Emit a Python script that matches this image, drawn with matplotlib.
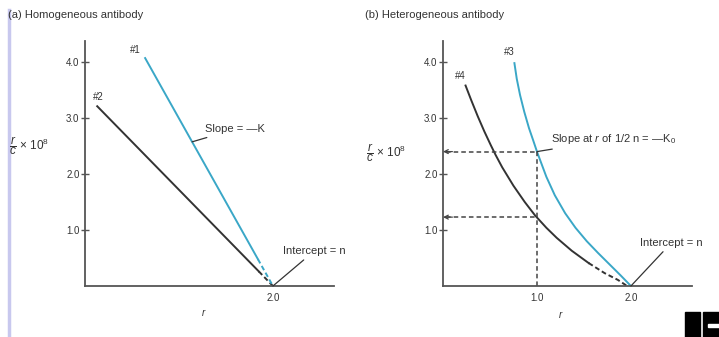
import numpy as np
import matplotlib
matplotlib.use('Agg')
import matplotlib.pyplot as plt
from matplotlib.lines import Line2D
from matplotlib.patches import Rectangle

plt.rcParams['font.family'] = ['Liberation Sans', 'DejaVu Sans']
plt.rcParams['mathtext.fontset'] = 'custom'
plt.rcParams['mathtext.rm'] = 'Liberation Sans'
plt.rcParams['mathtext.it'] = 'Liberation Sans:italic'

# (a) homogeneous antibody - straight Scatchard lines (r vs r/c x 10^8)
r1 = [0.64, 1.84, 2.0]
v1 = [4.07, 0.48, 0.0]
r2 = [0.13, 1.85, 2.0]
v2 = [3.21, 0.26, 0.0]

r3 = [0.76, 0.785, 0.82, 0.865, 0.915, 0.96, 1.0, 1.04, 1.10, 1.19, 1.30, 1.41,
      1.53, 1.65, 1.77, 1.89, 2.0]
v3 = [3.98, 3.70, 3.41, 3.11, 2.82, 2.60, 2.40, 2.22, 1.95, 1.62, 1.30, 1.04,
      0.80, 0.59, 0.39, 0.19, 0.0]
r4 = [0.24, 0.30, 0.37, 0.44, 0.51, 0.56, 0.63, 0.75, 0.87, 0.98, 1.10, 1.21,
      1.37, 1.55, 1.72, 1.86, 1.96]
v4 = [3.58, 3.32, 3.03, 2.76, 2.51, 2.34, 2.12, 1.79, 1.50, 1.26, 1.04, 0.86,
      0.63, 0.41, 0.23, 0.11, 0.0]

# dashed read-off guides at r = 1.0 (1/2 n)
r_half = 1.0
guide_v = [2.40, 1.23]

yticks = [1.0, 2.0, 3.0, 4.0]
ylabels = ['1.0', '2.0', '3.0', '4.0']

blue = '#3aa7c7'
dark = '#333333'
grey = '#555555'

W, H = 719, 337
fig = plt.figure(figsize=(W / 100, H / 100), dpi=100)


def px(x, y):
    return x / W, 1 - y / H


def setup(ax, xt):
    ax.set_xlim(0, 2.65)
    ax.set_ylim(0, 4.375)
    for s in ['top', 'right']:
        ax.spines[s].set_visible(False)
    for s in ['left', 'bottom']:
        ax.spines[s].set_color(grey)
        ax.spines[s].set_linewidth(1.3)
    ax.set_yticks(yticks)
    ax.set_yticklabels(ylabels)
    ax.set_xticks(xt)
    ax.set_xticklabels(['%.1f' % t for t in xt])
    ax.tick_params(axis='y', direction='inout', length=6, width=1, color=grey,
                   labelsize=7, pad=1, labelcolor='#333333')
    ax.tick_params(axis='x', length=0, labelsize=7, pad=5, labelcolor='#333333')
    ax.patch.set_alpha(0)


axL = fig.add_axes([85 / W, 51 / H, 249 / W, 245 / H])
axR = fig.add_axes([443 / W, 51 / H, 249 / W, 245 / H])
setup(axL, [2.0])
setup(axR, [1.0, 2.0])

lw = 1.4
# left panel lines: solid part then dashed tail to the intercept
axL.plot(r2[:2], v2[:2], color=dark, lw=lw)
axL.plot(r2[1:], v2[1:], color=dark, lw=lw, dashes=(2.5, 1.5))
axL.plot(r1[:2], v1[:2], color=blue, lw=lw)
axL.plot(r1[1:], v1[1:], color=blue, lw=lw, dashes=(2.5, 1.5))

tk = dict(fontsize=7, color='#333333', ha='center', va='center')
axL.annotate('#1', (r1[0], v1[0]), xytext=(-7, 6), textcoords='offset points', **tk)
axL.annotate('#2', (r2[0], v2[0]), xytext=(1, 7), textcoords='offset points', **tk)

lead = dict(arrowstyle='-', color=dark, lw=0.9, shrinkA=1, shrinkB=0)
xs = 1.14
axL.annotate('Slope = \u2014K', (xs, np.interp(xs, r1, v1)), xytext=(9, 9),
             textcoords='offset points', fontsize=8, color='#333333',
             ha='left', va='center', arrowprops=lead)
axL.annotate('Intercept = n', (r1[-1], v1[-1]), xytext=(7, 25),
             textcoords='offset points', fontsize=8, color='#333333',
             ha='left', va='center', arrowprops=lead)

# right panel curves (#4 turns dashed near the axis)
axR.plot(r4[:14], v4[:14], color=dark, lw=lw)
axR.plot(r4[13:], v4[13:], color=dark, lw=lw, dashes=(2.5, 1.5))
axR.plot(r3, v3, color=blue, lw=lw)

axR.annotate('#3', (r3[0], v3[0]), xytext=(-4, 8), textcoords='offset points', **tk)
axR.annotate('#4', (r4[0], v4[0]), xytext=(-4, 7), textcoords='offset points', **tk)

dk = dict(color='#444444', lw=1.1, dashes=(3, 2))
for yy in guide_v:
    axR.plot([0.03, r_half], [yy, yy], **dk)
    axR.annotate('', xy=(0.0, yy), xytext=(0.1, yy),
                 arrowprops=dict(arrowstyle='->', color='#444444', lw=0.9,
                                 mutation_scale=7, shrinkA=0, shrinkB=0))
axR.plot([r_half, r_half], [0, max(guide_v)], **dk)

axR.annotate('Slope at $r$ of 1/2 n = \u2014K$_0$', (r_half, max(guide_v)), xytext=(10, 9),
             textcoords='offset points', fontsize=8, color='#333333',
             ha='left', va='center', arrowprops=lead)
axR.annotate('Intercept = n', (r3[-1], v3[-1]), xytext=(6.5, 31),
             textcoords='offset points', fontsize=8, color='#333333',
             ha='left', va='center', arrowprops=lead)

# titles and axis labels
fig.text(*px(8, 15), '(a) Homogeneous antibody', fontsize=8, color='#333333', va='center')
fig.text(*px(365, 15), '(b) Heterogeneous antibody', fontsize=8, color='#333333', va='center')
ylab = r'$\dfrac{r}{c}$ $\times$ 10$^8$'
fig.text(*px(9, 146), ylab, fontsize=8.5, color='#333333', va='center')
fig.text(*px(366, 153), ylab, fontsize=8.5, color='#333333', va='center')
fig.text(*px(203, 313), 'r', fontsize=7, style='italic', color='#333333', ha='center', va='center')
fig.text(*px(560, 315), 'r', fontsize=7, style='italic', color='#333333', ha='center', va='center')

# faint border on the left and publisher mark bottom right
fig.add_artist(Line2D([8.5 / W, 8.5 / W], [0, 1 - 10 / H], color='#c8c8ee', lw=2.5))
for x0, y0, w, h, c in [(685, 312, 15, 25, 'black'), (703, 312, 16, 25, 'black'),
                        (708, 324, 11, 3, 'white')]:
    fig.add_artist(Rectangle(px(x0, y0 + h), w / W, h / H, color=c,
                             transform=fig.transFigure))

fig.savefig('out.png', dpi=100)
